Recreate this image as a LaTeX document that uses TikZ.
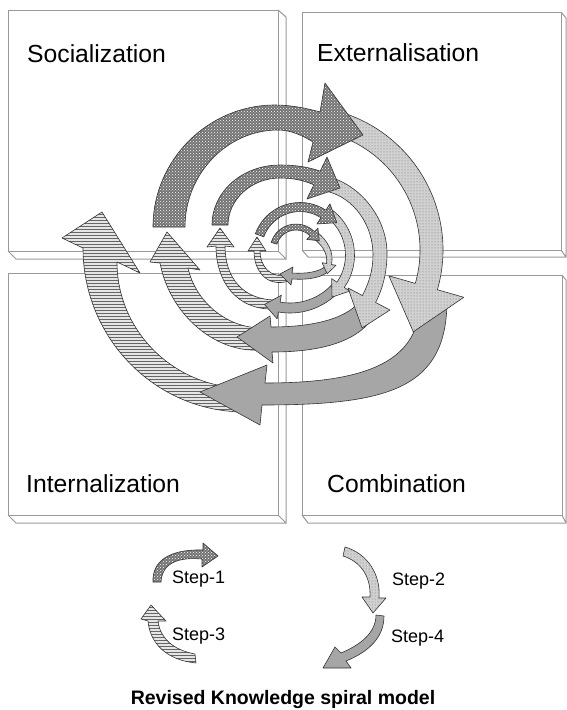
\documentclass[tikz,border=0pt]{standalone}
\usepackage{fontspec}
\setmainfont{Liberation Sans}
\usetikzlibrary{calc,patterns}
\newcommand\carr[8]{%
  \path[#1] ($(#2)+(#5:{#3+#4/2})$)
    arc[start angle=#5, end angle=#6, radius={#3+#4/2}]
    -- ($(#2)+(#6:{#3+#7})$)
    -- ($(#2)+(#6:#3)+({#6+90}:#8)$)
    -- ($(#2)+(#6:{#3-#7})$)
    -- ($(#2)+(#6:{#3-#4/2})$)
    arc[start angle=#6, end angle=#5, radius={#3-#4/2}] -- cycle;}
\begin{document}
\begin{tikzpicture}[x=1pt,y=1pt,yscale=-1,
  boxline/.style={draw=black!40, line width=1pt},
  arrline/.style={draw=black!80, line width=0.6pt, line join=round},
  chk/.style={arrline, preaction={fill=black!55}, pattern=crosshatch dots, pattern color=white},
  fine/.style={arrline, preaction={fill=black!18}, pattern=dots, pattern color=black!55},
  hatch/.style={arrline, preaction={fill=black!10}, pattern=horizontal lines, pattern color=black!60},
  gry/.style={arrline, fill=black!35},
  lbl/.style={font=\fontsize{24.7}{28}\selectfont, inner sep=0pt, anchor=base west},
  steplbl/.style={font=\fontsize{18}{20}\selectfont, inner sep=0pt, anchor=base west}]
\useasboundingbox (0,0) rectangle (567,710);
% boxes
\draw[boxline] (8,10) rectangle (278,251);
\draw[boxline] (278,10) -- (286,17) -- (286,259) -- (16,259) -- (8,251) (278,251) -- (286,259);
\draw[boxline] (302,12) rectangle (561,250);
\draw[boxline] (561,12) -- (566,18) -- (566,257) -- (308,257) -- (302,250) (561,250) -- (566,257);
\draw[boxline] (8,273) rectangle (278,515);
\draw[boxline] (278,273) -- (286,280) -- (286,523) -- (16,523) -- (8,515) (278,515) -- (286,523);
\draw[boxline] (302,275) rectangle (562,515);
\draw[boxline] (562,275) -- (566,280) -- (566,523) -- (308,523) -- (302,515) (562,515) -- (566,523);
\node[lbl] (soc) at (27,62) {Socialization};
\node[lbl] (ext) at (317,61) {Externalisation};
\node[lbl] (int) at (26,492) {Internalization};
\node[lbl] (com) at (327,492) {Combination};
% loop 4
\path[hatch] (245,412) .. controls (155,412) and (83,338) .. (83,248) -- (62,238) -- (102,212) -- (140,273) -- (117,262) .. controls (117,332) and (175,388) .. (245,388) -- cycle;
\path[gry] (447,300) .. controls (447,388) and (390,405) .. (262,405) -- (260,425) -- (200,392) -- (267,365) -- (265,383) .. controls (370,383) and (420,360) .. (420,300) -- cycle;
\path[fine] (336.3,110.9) .. controls (414.1,131.8) and (459.6,212.3) .. (437.4,289.7) -- (463.8,297.3) -- (413.3,331.8) -- (388.9,275.8) -- (415.3,283.4) .. controls (434,218.4) and (395.6,150.6) .. (330.3,133.1) -- cycle;
\path[chk] (153,227) .. controls (153,160) and (208,105) .. (275,105) .. controls (290,105) and (306,108) .. (320,112) -- (325,83) -- (363,135) -- (308,162) -- (313,142) .. controls (302,135) and (290,130) .. (278,130) .. controls (227,130) and (185,174) .. (185,227) -- cycle;
% loop 3
\path[hatch] (258,350) .. controls (215,352) and (170,315) .. (160,263) -- (150,262) -- (167,232) -- (200,270) -- (188,268) .. controls (195,300) and (225,328) .. (262,328) -- cycle;
\path[gry] (378,308) .. controls (365,340) and (325,352) .. (272,352) -- (273,363) -- (237,337) -- (270,316) -- (271,327) .. controls (315,327) and (350,318) .. (362,298) -- cycle;
\path[fine] (318,175) .. controls (355,178) and (387,215) .. (387,253) .. controls (387,272) and (383,288) .. (375.6,302.5) -- (390,310) -- (362,328) -- (348,288) -- (362.4,295.5) .. controls (369,283) and (373,270) .. (373,255) .. controls (373,222) and (350,192) .. (318,190) -- cycle;
\path[chk] (212,225) .. controls (212,192) and (242,165) .. (280,165) .. controls (295,165) and (309,167) .. (320.2,171.2) -- (327,157) -- (340,188) -- (307,199) -- (313.8,184.8) .. controls (303,180) and (292,178) .. (280,178) .. controls (251,178) and (228,200) .. (228,225) -- cycle;
% loop 2
\path[hatch] (276,309) .. controls (236,311) and (216,281) .. (216,246) -- (207,247) -- (220,228) -- (234,247) -- (225,246) .. controls (225,278) and (243,300) .. (276,300) -- cycle;
\carr{gry}{290,246}{62}{10}{42}{100}{12}{15}
\carr{fine}{298,255}{52}{9}{305}{395}{11}{15}
\carr{chk}{300,250}{43}{9}{200}{303}{12}{16}
% loop 1
\path[hatch] (289,281) .. controls (266,288) and (254,270) .. (254,251) -- (248,251) -- (257,237) -- (266,251) -- (260,251) .. controls (260,266) and (270,279) .. (289,275) -- cycle;
\path[gry] (331,268) .. controls (325,278) and (308,280) .. (292,279) -- (291,285) -- (280,274) -- (293,267) -- (292,273) .. controls (306,274) and (319,272) .. (326,266) -- cycle;
\path[fine] (317,232) .. controls (328,241) and (334,252) .. (331.5,264.5) -- (336,265.3) -- (327.2,273.8) -- (322.1,262.7) -- (326.5,263.5) .. controls (328,253) and (322,245) .. (313,238) -- cycle;
\carr{chk}{296,250}{23}{6}{197}{315}{8}{10}
% legend
\path[chk] (153,582) .. controls (152,562) and (168,549) .. (203,550) -- (203,543) -- (218,556) -- (202,567) -- (202,559) .. controls (180,557) and (162,562) .. (161,582) -- cycle;
\path[fine] (345,547) .. controls (366,553) and (381,573) .. (379,598) -- (386,598) -- (373,613) -- (362,597) -- (370,597) .. controls (371,578) and (362,562) .. (343,556) -- cycle;
\path[gry] (384,616) .. controls (384,638) and (368,652) .. (346,661) -- (351,668) -- (323,668) -- (335,647) -- (341,653) .. controls (360,645) and (376,633) .. (376,615) -- cycle;
\path[hatch] (196,663) .. controls (166,660) and (150,643) .. (148,621) -- (141,619) -- (151,605) -- (166,621) -- (158,621) .. controls (160,638) and (173,650) .. (195,654) -- cycle;
\node[steplbl] (s1) at (172,583) {Step-1};
\node[steplbl] (s2) at (392,585) {Step-2};
\node[steplbl] (s3) at (172,640) {Step-3};
\node[steplbl] (s4) at (391,642) {Step-4};
\node[font=\bfseries\fontsize{19.5}{22}\selectfont, inner sep=0pt, anchor=base] (title) at (283,704) {Revised Knowledge spiral model};
\end{tikzpicture}
\end{document}
